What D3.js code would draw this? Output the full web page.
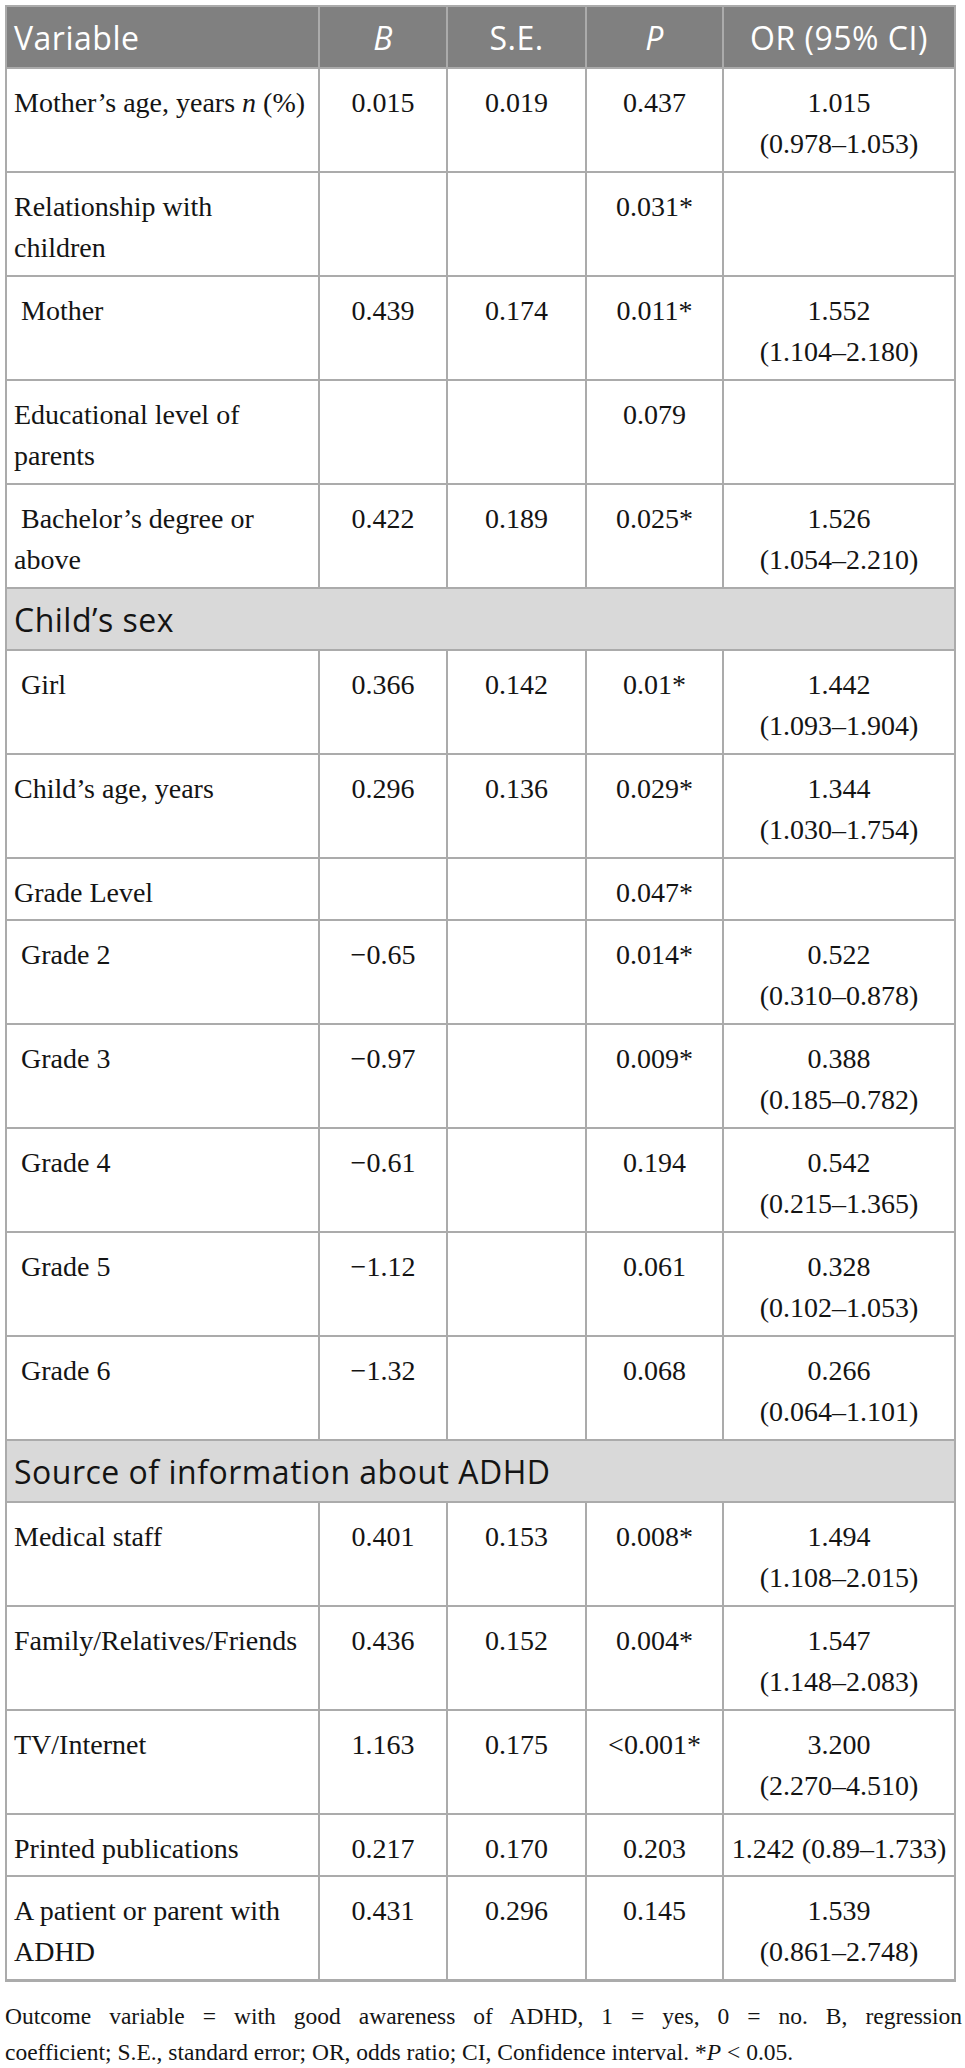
<!DOCTYPE html>
<html>
  <head>
    <meta charset="UTF-8" />
    <style>
      body {
        margin: 0;
        background: #fff;
      }
      svg text {
        white-space: pre;
      }
    </style>
  </head>
  <body>
    <svg></svg>
    <script src="https://d3js.org/d3.v7.min.js"></script>
    <script>
      // Table content. "\n" = line break in the cell, |x| = italic, null = section row
      const columns = ["Variable", "B", "S.E.", "P", "OR (95% CI)"];
      const italicColumns = ["B", "P"];

      const variables = [
        "Mother’s age, years |n| (%)",
        "Relationship with\nchildren",
        " Mother",
        "Educational level of\nparents",
        " Bachelor’s degree or\nabove",
        "Child’s sex",
        " Girl",
        "Child’s age, years",
        "Grade Level",
        " Grade 2",
        " Grade 3",
        " Grade 4",
        " Grade 5",
        " Grade 6",
        "Source of information about ADHD",
        "Medical staff",
        "Family/Relatives/Friends",
        "TV/Internet",
        "Printed publications",
        "A patient or parent with\nADHD",
      ];

      const bValues = ["0.015", "", "0.439", "", "0.422", null, "0.366", "0.296", "",
        "−0.65", "−0.97", "−0.61", "−1.12", "−1.32", null,
        "0.401", "0.436", "1.163", "0.217", "0.431"];

      const seValues = ["0.019", "", "0.174", "", "0.189", null, "0.142", "0.136", "",
        "", "", "", "", "", null,
        "0.153", "0.152", "0.175", "0.170", "0.296"];

      const pValues = ["0.437", "0.031*", "0.011*", "0.079", "0.025*", null, "0.01*", "0.029*", "0.047*",
        "0.014*", "0.009*", "0.194", "0.061", "0.068", null,
        "0.008*", "0.004*", "<0.001*", "0.203", "0.145"];

      const orValues = ["1.015\n(0.978–1.053)", "", "1.552\n(1.104–2.180)", "", "1.526\n(1.054–2.210)", null,
        "1.442\n(1.093–1.904)", "1.344\n(1.030–1.754)", "",
        "0.522\n(0.310–0.878)", "0.388\n(0.185–0.782)", "0.542\n(0.215–1.365)",
        "0.328\n(0.102–1.053)", "0.266\n(0.064–1.101)", null,
        "1.494\n(1.108–2.015)", "1.547\n(1.148–2.083)", "3.200\n(2.270–4.510)",
        "1.242 (0.89–1.733)", "1.539\n(0.861–2.748)"];

      const footnoteLines = [
        "Outcome variable = with good awareness of ADHD, 1 = yes, 0 = no. B, regression",
        "coefficient; S.E., standard error; OR, odds ratio; CI, Confidence interval. *|P| < 0.05.",
      ];

      let width = 965,
        height = 2068;
      let svg = d3.select("svg").attr("width", width).attr("height", height);

      const serif = "'Liberation Serif', 'Times New Roman', serif";
      const sans = "'Open Sans', 'Noto Sans', sans-serif";
      const lineColor = "#ababab";

      const colEdges = [6, 319, 447, 586, 723, 955];
      const left = colEdges[0],
        right = colEdges[colEdges.length - 1];
      const tableTop = 6,
        headerHeight = 62;

      const cells = variables.map((v, i) => [v, bValues[i], seValues[i], pValues[i], orValues[i]]);
      const isSection = (i) => bValues[i] === null;
      const nLines = (s) => (s ? s.split("\n").length : 1);

      // one-line rows are 62px high, two-line rows 104px
      const rowHeights = cells.map((c, i) =>
        isSection(i) ? 62 : d3.max(c, nLines) > 1 ? 104 : 62
      );
      const rowTops = [0, ...d3.cumsum(rowHeights)].map((v) => v + tableTop + headerHeight);
      const tableBottom = rowTops[rowTops.length - 1];

      let y = d3.scaleOrdinal().domain(d3.range(variables.length)).range(rowTops);
      let xCenter = d3
        .scaleOrdinal()
        .domain(columns)
        .range(columns.map((c, i) => (colEdges[i] + colEdges[i + 1]) / 2));

      // writes "a |b| c" into a text element, with |b| in italic
      function richText(sel, str) {
        str.split("|").forEach((part, k) => {
          if (part === "") return;
          sel.append("tspan").attr("font-style", k % 2 ? "italic" : null).text(part);
        });
      }

      // backgrounds
      svg
        .append("rect")
        .attr("x", left)
        .attr("y", tableTop)
        .attr("width", right - left)
        .attr("height", headerHeight)
        .attr("fill", "#808080");

      svg
        .append("g")
        .selectAll("rect")
        .data(d3.range(variables.length).filter(isSection))
        .join("rect")
        .attr("x", left)
        .attr("y", (i) => y(i))
        .attr("width", right - left)
        .attr("height", (i) => rowHeights[i])
        .attr("fill", "#d9d9d9");

      // grid lines
      let grid = svg.append("g").attr("stroke", lineColor).attr("stroke-width", 2);
      grid
        .selectAll("line.h")
        .data(rowTops.slice(0, -1))
        .join("line")
        .attr("class", "h")
        .attr("x1", left)
        .attr("x2", right)
        .attr("y1", (d) => d)
        .attr("y2", (d) => d);

      const vRows = [{ top: tableTop, h: headerHeight }].concat(
        d3.range(variables.length)
          .filter((i) => !isSection(i))
          .map((i) => ({ top: y(i), h: rowHeights[i] }))
      );
      vRows.forEach((r) => {
        grid
          .append("g")
          .selectAll("line")
          .data(colEdges.slice(1, -1))
          .join("line")
          .attr("x1", (d) => d)
          .attr("x2", (d) => d)
          .attr("y1", r.top)
          .attr("y2", r.top + r.h);
      });

      svg
        .append("rect")
        .attr("x", left)
        .attr("y", tableTop)
        .attr("width", right - left)
        .attr("height", tableBottom - tableTop)
        .attr("fill", "none")
        .attr("stroke", lineColor)
        .attr("stroke-width", 2);
      svg
        .append("line")
        .attr("x1", left - 1)
        .attr("x2", right + 1)
        .attr("y1", tableBottom + 0.5)
        .attr("y2", tableBottom + 0.5)
        .attr("stroke", lineColor)
        .attr("stroke-width", 3);

      // header
      svg
        .append("g")
        .selectAll("text")
        .data(columns)
        .join("text")
        .attr("x", (d, i) => (i === 0 ? left + 8 : xCenter(d)))
        .attr("y", tableTop + 44)
        .attr("text-anchor", (d, i) => (i === 0 ? "start" : "middle"))
        .attr("font-family", sans)
        .attr("font-size", 32)
        .attr("letter-spacing", 0.5)
        .attr("font-style", (d) => (italicColumns.includes(d) ? "italic" : null))
        .attr("fill", "#fff")
        .text((d) => d);

      // body
      let body = svg.append("g").attr("fill", "#141414");
      cells.forEach((row, i) => {
        const top = y(i);
        if (isSection(i)) {
          body
            .append("text")
            .attr("x", left + 8)
            .attr("y", top + 44)
            .attr("font-family", sans)
            .attr("font-size", 32)
            .attr("letter-spacing", 0.5)
            .text(row[0]);
          return;
        }
        row.forEach((val, c) => {
          if (!val) return;
          val.split("\n").forEach((ln, k) => {
            let t = body
              .append("text")
              .attr("x", c === 0 ? left + 8 : xCenter(columns[c]))
              .attr("y", top + 44 + k * 41)
              .attr("text-anchor", c === 0 ? "start" : "middle")
              .attr("font-family", serif)
              .attr("font-size", 28);
            richText(t, ln);
          });
        });
      });

      // footnote, first line justified to the page width
      let foot = svg.append("g").attr("fill", "#141414");
      footnoteLines.forEach((ln, k) => {
        let t = foot
          .append("text")
          .attr("x", 5)
          .attr("y", 2024 + k * 36)
          .attr("font-family", serif)
          .attr("font-size", 23.5);
        richText(t, ln);
        if (k === 0) {
          const natural = t.node().getComputedTextLength();
          const spaces = ln.split(" ").length - 1;
          t.style("word-spacing", (957 - natural) / spaces + "px");
        }
      });
    </script>
  </body>
</html>
